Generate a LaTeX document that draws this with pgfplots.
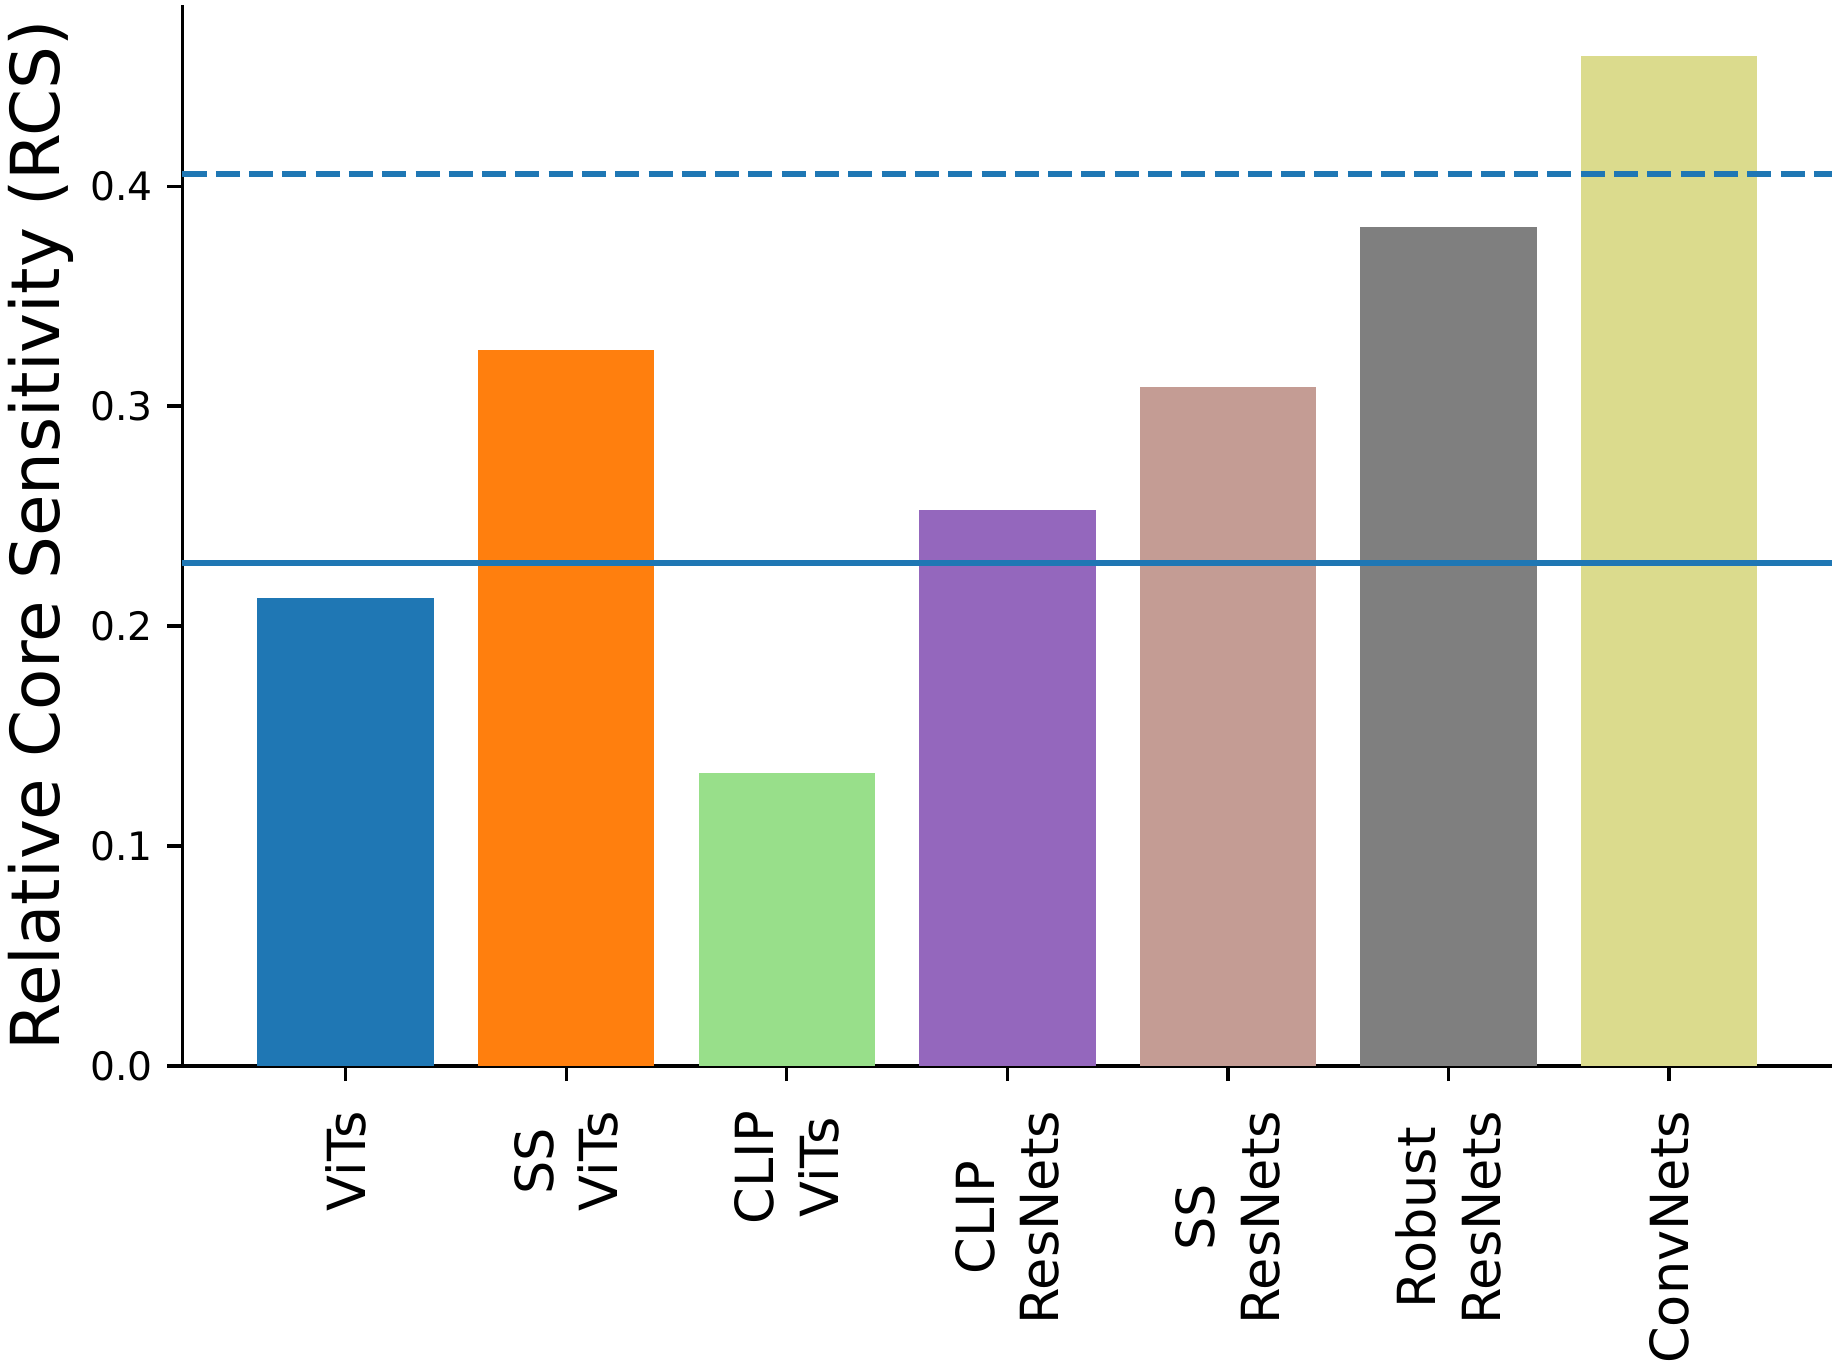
\documentclass[border=0pt]{standalone}
\usepackage{pgfplots}
\pgfplotsset{compat=1.18}
\usepackage{fontspec}
\setmainfont{DejaVu Sans}
\definecolor{c0}{HTML}{1F77B4}
\definecolor{c1}{HTML}{FF7F0E}
\definecolor{c2}{HTML}{98DF8A}
\definecolor{c3}{HTML}{9467BD}
\definecolor{c4}{HTML}{C49C94}
\definecolor{c5}{HTML}{7F7F7F}
\definecolor{c6}{HTML}{DBDB8D}
\begin{document}
\begin{tikzpicture}
\path[use as bounding box] (-43.8pt,-71.04pt) rectangle (397.08pt,255.84pt);
\begin{axis}[
  scale only axis,
  width=395.9pt, height=254.6pt,
  xmin=-0.74, xmax=6.74, ymin=0, ymax=0.4823,
  axis x line*=bottom, axis y line*=left,
  axis line style={-, line width=0.8pt, black},
  tick align=outside,
  major tick length=3.6pt,
  every tick/.style={black, line width=0.8pt},
  minor tick num=0,
  xtick={0,1,2,3,4,5,6},
  xticklabels={ViTs,{SS\\ViTs},{CLIP\\ViTs},{CLIP\\ResNets},{SS\\ResNets},{Robust\\ResNets},ConvNets},
  xticklabel style={rotate=90, anchor=east, align=center, inner sep=0pt, xshift=-7pt, font=\fontsize{12.6}{15.5}\selectfont},
  ytick={0,0.1,0.2,0.3,0.4},
  yticklabel style={font=\fontsize{9.4}{11}\selectfont, /pgf/number format/.cd, fixed, fixed zerofill, precision=1, assume math mode=true},
  ylabel={Relative Core Sensitivity (RCS)},
  ylabel style={font=\fontsize{16.2}{19.5}\selectfont, at={(axis description cs:-0.0858,0.5)}, anchor=center},
  clip=false,
]
\addplot[ybar, bar width=0.8, bar shift=0pt, fill=c0, draw=none] coordinates {(0,0.2126)};
\addplot[ybar, bar width=0.8, bar shift=0pt, fill=c1, draw=none] coordinates {(1,0.3255)};
\addplot[ybar, bar width=0.8, bar shift=0pt, fill=c2, draw=none] coordinates {(2,0.1332)};
\addplot[ybar, bar width=0.8, bar shift=0pt, fill=c3, draw=none] coordinates {(3,0.2527)};
\addplot[ybar, bar width=0.8, bar shift=0pt, fill=c4, draw=none] coordinates {(4,0.3086)};
\addplot[ybar, bar width=0.8, bar shift=0pt, fill=c5, draw=none] coordinates {(5,0.3814)};
\addplot[ybar, bar width=0.8, bar shift=0pt, fill=c6, draw=none] coordinates {(6,0.4591)};
\addplot[sharp plot, c0, line width=1.44pt, mark=none] coordinates {(-0.74,0.2288) (6.74,0.2288)};
\addplot[sharp plot, c0, line width=1.44pt, mark=none, dash pattern=on 5.76pt off 2.23pt] coordinates {(-0.74,0.4055) (6.74,0.4055)};
\end{axis}
\end{tikzpicture}
\end{document}
